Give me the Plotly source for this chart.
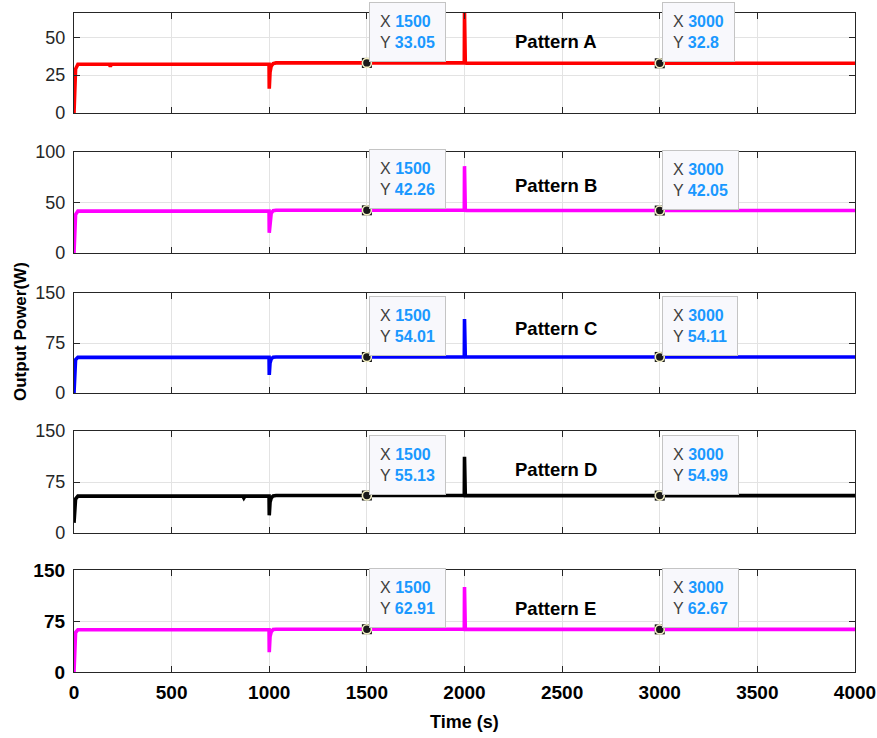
import plotly.graph_objects as go
from plotly.subplots import make_subplots

# ---------------- data ----------------
t_A = [0, 8, 20, 180, 186, 192, 999, 1000, 1004, 1010, 1020, 1035, 1500, 1999, 2000, 2004, 2010, 3000, 4000]
p_A = [0, 29, 32.2, 32.2, 30.8, 32.2, 32.2, 16, 27, 31, 32.6, 33.05, 33.05, 33.05, 66, 33.0, 32.8, 32.8, 32.8]

t_B = [0, 8, 20, 999, 1000, 1004, 1010, 1020, 1035, 1500, 1999, 2000, 2004, 2010, 3000, 4000]
p_B = [0, 38, 41.5, 41.5, 20, 34, 39.5, 41.8, 42.26, 42.26, 42.26, 86, 42.2, 42.05, 42.05, 42.05]

t_C = [0, 8, 20, 999, 1000, 1004, 1010, 1020, 1035, 1500, 1999, 2000, 2004, 2010, 3000, 4000]
p_C = [0, 50, 53.5, 53.5, 27, 45, 51, 53.6, 54.01, 54.01, 54.01, 111, 54.1, 54.11, 54.11, 54.11]

t_D = [0, 8, 20, 865, 870, 876, 999, 1000, 1004, 1010, 1020, 1035, 1500, 1999, 2000, 2004, 2010, 3000, 4000]
p_D = [15, 50, 54.2, 54.2, 51.5, 54.2, 54.2, 26, 45, 51.5, 54.6, 55.13, 55.13, 55.13, 112, 55.0, 54.99, 54.99, 54.99]

t_E = [0, 8, 20, 999, 1000, 1004, 1010, 1020, 1035, 1500, 1999, 2000, 2004, 2010, 3000, 4000]
p_E = [0, 58, 62.2, 62.2, 29, 52, 59, 62.4, 62.91, 62.91, 62.91, 125, 62.7, 62.67, 62.67, 62.67]

names = ["Pattern A", "Pattern B", "Pattern C", "Pattern D", "Pattern E"]
colors = ["#ff0000", "#ff00ff", "#0000ff", "#000000", "#ff00ff"]
series_t = [t_A, t_B, t_C, t_D, t_E]
series_p = [p_A, p_B, p_C, p_D, p_E]

tip_x = [1500, 3000]
tip_y = [[33.05, 32.8], [42.26, 42.05], [54.01, 54.11], [55.13, 54.99], [62.91, 62.67]]
tip_text = [["33.05", "32.8"], ["42.26", "42.05"], ["54.01", "54.11"], ["55.13", "54.99"], ["62.91", "62.67"]]

y_ranges = [[0, 66], [0, 100], [0, 150], [0, 150], [0, 150]]
y_ticks = [[0, 25, 50], [0, 50, 100], [0, 75, 150], [0, 75, 150], [0, 75, 150]]
x_ticks = [0, 500, 1000, 1500, 2000, 2500, 3000, 3500, 4000]

# ---------------- layout geometry ----------------
W, H = 877, 738
ML, MR, MT, MB = 74, 22, 13, 66
panel_px = [(13, 113), (152, 253), (293, 393), (431, 533), (570, 672)]
label_pos = [0.72, 0.665, 0.65, 0.62, 0.62]
plot_h = H - MT - MB
def frac(ypx):
    return (H - MB - ypx) / plot_h

FONT = "Liberation Sans, Arial, Helvetica, sans-serif"
AX = "#262626"
GRID = "#e3e3e3"
VAL = "#1a98ff"
LAB = "#3f3f3f"

fig = make_subplots(rows=5, cols=1, shared_xaxes=False)

for i in range(5):
    r = i + 1
    fig.add_trace(go.Scatter(x=series_t[i], y=series_p[i], mode="lines",
                             line=dict(color=colors[i], width=3.6),
                             showlegend=False, hoverinfo="skip"), row=r, col=1)
    # datatip markers
    fig.add_trace(go.Scatter(x=tip_x, y=tip_y[i], mode="markers",
                             marker=dict(symbol="square", size=10, color="#111111"),
                             showlegend=False, hoverinfo="skip", cliponaxis=False), row=r, col=1)
    fig.add_trace(go.Scatter(x=tip_x, y=tip_y[i], mode="markers",
                             marker=dict(symbol="circle", size=9, color="#1a1a1a",
                                         line=dict(color="#f3efc4", width=1.6)),
                             showlegend=False, hoverinfo="skip", cliponaxis=False), row=r, col=1)

    top, bot = panel_px[i]
    yk = "yaxis" if r == 1 else f"yaxis{r}"
    xk = "xaxis" if r == 1 else f"xaxis{r}"
    last = (r == 5)
    fig.layout[yk].update(domain=[frac(bot), frac(top)], range=y_ranges[i], automargin=False,
                          tickvals=y_ticks[i], ticks="inside", ticklen=6, tickwidth=1.2,
                          tickcolor=AX, showline=True, linecolor=AX, linewidth=1.3,
                          mirror="ticks", showgrid=True, gridcolor=GRID, gridwidth=1,
                          zeroline=False, ticklabelstandoff=4,
                          tickfont=dict(family=FONT, size=19 if last else 18,
                                        color="#000000" if last else AX,
                                        weight="bold" if last else "normal"))
    fig.layout[xk].update(range=[0, 4000], tickvals=x_ticks, ticks="inside", ticklen=6,
                          tickwidth=1.2, tickcolor=AX, showline=True, linecolor=AX,
                          linewidth=1.3, mirror="ticks", showgrid=True, gridcolor=GRID,
                          gridwidth=1, zeroline=False, showticklabels=last, automargin=False,
                          ticklabelstandoff=3,
                          tickfont=dict(family=FONT, size=19, color="#000000", weight="bold"))
    if r > 1:
        fig.layout[xk].update(matches="x")

    xref = "x" if r == 1 else f"x{r}"
    yref = "y" if r == 1 else f"y{r}"
    # pattern label
    fig.add_annotation(x=2467, y=label_pos[i], xref=xref, yref=f"{yref} domain",
                       xanchor="center", yanchor="middle",
                       text=f"<b>{names[i]}</b>", showarrow=False,
                       font=dict(family=FONT, size=18.5, color="#000000"))
    # datatips
    for k in range(2):
        txt = (f"<span style='color:{LAB}'>X</span> <span style='color:{VAL}'><b>{tip_x[k]}</b></span>"
               f"<br><span style='color:{LAB}'>Y</span> <span style='color:{VAL}'><b>{tip_text[i][k]}</b></span>")
        fig.add_annotation(x=tip_x[k], y=tip_y[i][k], xref=xref, yref=yref,
                           text=txt, showarrow=False, xanchor="left", yanchor="bottom",
                           xshift=2, yshift=1, align="left",
                           bgcolor="#f8f8fc", bordercolor="#c4c4c4", borderwidth=1,
                           borderpad=10, font=dict(family=FONT, size=16, color=LAB))

# axis titles
fig.add_annotation(x=0, y=frac(332), xref="paper", yref="paper", xshift=-(ML - 20),
                   xanchor="center", yanchor="middle",
                   text="<b>Output Power(W)</b>", textangle=-90, showarrow=False,
                   font=dict(family=FONT, size=17, color="#000000"))
fig.add_annotation(x=0.5, y=frac(722), xref="paper", yref="paper",
                   xanchor="center", yanchor="middle",
                   text="<b>Time (s)</b>", showarrow=False,
                   font=dict(family=FONT, size=18, color="#000000"))

fig.update_layout(width=W, height=H, margin=dict(l=ML, r=MR, t=MT, b=MB, autoexpand=False),
                  plot_bgcolor="#ffffff", paper_bgcolor="#ffffff", showlegend=False)

fig.write_html("out.html", config={"displayModeBar": False},
               post_script="document.body.style.margin='0';document.body.style.overflow='hidden';")
